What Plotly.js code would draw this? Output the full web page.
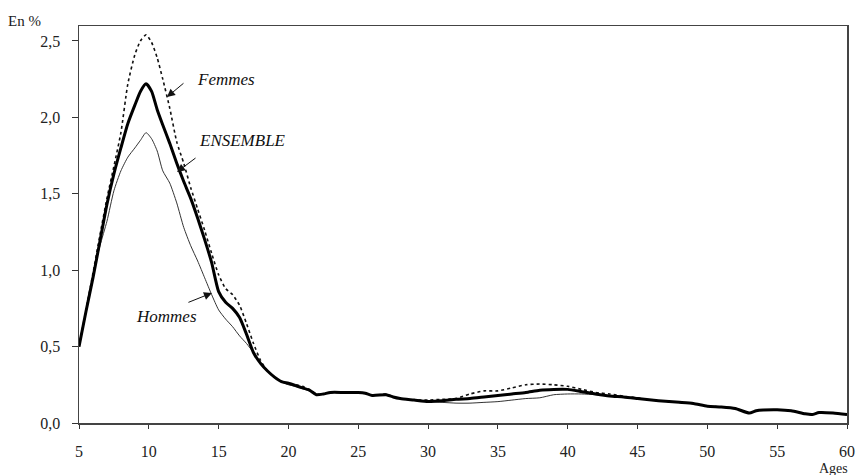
<!DOCTYPE html>
<html>
<head>
<meta charset="utf-8">
<script src="https://cdn.plot.ly/plotly-3.0.1.min.js"></script>
<style>
html,body{margin:0;padding:0;background:#fff;}
#chart{width:857px;height:475px;}
</style>
</head>
<body>
<div id="chart"></div>
<script>
const ages = [5,5.5,6,6.5,7,7.5,8,8.5,9,9.4,9.8,10.2,10.6,11,11.5,12,12.5,13,13.5,14,14.5,15,15.5,16,16.5,17,17.5,18,18.5,19,19.5,20,20.5,21,21.5,22,22.5,23,24,25,25.5,26,27,27.5,28,29,30,31,32,33,34,35,36,37,38,39,40,41,42,43,44,45,46,47,48,49,50,51,52,53,53.5,54,55,56,57,57.5,58,59,60];

const ensemble = [0.50,0.73,0.95,1.19,1.43,1.63,1.80,1.96,2.08,2.17,2.22,2.17,2.05,1.95,1.83,1.70,1.58,1.47,1.34,1.20,1.05,0.86,0.79,0.75,0.69,0.58,0.46,0.39,0.34,0.30,0.27,0.26,0.245,0.23,0.215,0.185,0.19,0.20,0.20,0.20,0.195,0.18,0.185,0.17,0.16,0.15,0.14,0.145,0.155,0.16,0.17,0.18,0.19,0.20,0.215,0.22,0.22,0.205,0.19,0.177,0.17,0.16,0.15,0.142,0.135,0.127,0.11,0.105,0.095,0.065,0.08,0.085,0.087,0.08,0.06,0.055,0.068,0.065,0.055];

const femmes = [0.50,0.74,0.98,1.23,1.47,1.68,1.90,2.22,2.41,2.50,2.54,2.49,2.39,2.25,2.06,1.84,1.70,1.54,1.40,1.26,1.11,0.97,0.88,0.84,0.77,0.65,0.52,0.41,0.34,0.30,0.27,0.255,0.25,0.24,0.22,0.19,0.19,0.20,0.20,0.20,0.195,0.18,0.19,0.17,0.16,0.15,0.15,0.155,0.16,0.19,0.21,0.21,0.23,0.25,0.255,0.25,0.24,0.22,0.20,0.19,0.175,0.165,0.15,0.142,0.135,0.127,0.11,0.105,0.095,0.065,0.08,0.085,0.087,0.08,0.06,0.055,0.068,0.065,0.055];

const hommes = [0.50,0.74,0.97,1.16,1.32,1.52,1.65,1.74,1.80,1.85,1.90,1.86,1.78,1.65,1.57,1.44,1.28,1.16,1.06,0.95,0.84,0.74,0.68,0.63,0.57,0.52,0.46,0.39,0.34,0.30,0.27,0.25,0.24,0.225,0.21,0.185,0.19,0.20,0.20,0.20,0.195,0.18,0.185,0.17,0.16,0.15,0.14,0.135,0.13,0.13,0.135,0.14,0.15,0.16,0.165,0.185,0.19,0.19,0.185,0.175,0.17,0.16,0.15,0.142,0.135,0.127,0.11,0.105,0.095,0.065,0.08,0.085,0.087,0.08,0.06,0.055,0.068,0.065,0.055];

const yTickVals = [0,0.5,1,1.5,2,2.5];
const yTickText = ['0,0','0,5','1,0','1,5','2,0','2,5'];
const xTickVals = [5,10,15,20,25,30,35,40,45,50,55,60];
const xTickText = ['5','10','15','20','25','30','35','40','45','50','55','60'];

const serif = 'Liberation Serif, Times New Roman, serif';

const traces = [
  {x: ages, y: hommes, mode: 'lines', name: 'Hommes', line: {color: '#333', width: 1, shape: 'spline', smoothing: 0.6}},
  {x: ages, y: femmes, mode: 'lines', name: 'Femmes', line: {color: '#111', width: 1.6, dash: 'dot', shape: 'spline', smoothing: 0.6}},
  {x: ages, y: ensemble, mode: 'lines', name: 'ENSEMBLE', line: {color: '#000', width: 3, shape: 'spline', smoothing: 0.6}}
];

const axFont = {family: serif, size: 16, color: '#222'};

const layout = {
  width: 857, height: 475,
  margin: {l: 79, r: 10, t: 26, b: 52},
  paper_bgcolor: '#fff', plot_bgcolor: '#fff',
  showlegend: false,
  xaxis: {
    range: [5, 60], tickvals: xTickVals, ticktext: xTickText,
    ticks: 'outside', ticklen: 4, tickwidth: 1, tickcolor: '#333',
    showline: true, linecolor: '#444', linewidth: 1.5, mirror: true,
    showgrid: false, zeroline: false, tickfont: axFont, ticklabelstandoff: 9
  },
  yaxis: {
    range: [0, 2.598], tickvals: yTickVals, ticktext: yTickText,
    ticks: 'outside', ticklen: 6, tickwidth: 1, tickcolor: '#333',
    showline: true, linecolor: '#444', linewidth: 1.5, mirror: true,
    showgrid: false, zeroline: false, tickfont: axFont, ticklabelstandoff: 8
  },
  xaxis2: {
    overlaying: 'x', matches: 'x', range: [5, 60], tickvals: xTickVals,
    ticks: 'inside', ticklen: 3, tickwidth: 1, tickcolor: '#333',
    showticklabels: false, showgrid: false, zeroline: false, showline: false
  },
  yaxis2: {
    overlaying: 'y', matches: 'y', range: [0, 2.598], tickvals: yTickVals,
    ticks: 'inside', ticklen: 4, tickwidth: 1, tickcolor: '#333',
    showticklabels: false, showgrid: false, zeroline: false, showline: false
  },
  annotations: [
    {xref: 'paper', yref: 'paper', x: -0.0716, y: 1.0126, text: 'En %', showarrow: false,
     xanchor: 'center', yanchor: 'middle', font: {family: serif, size: 15, color: '#222'}},
    {xref: 'paper', yref: 'paper', x: 0.983, y: -0.1155, text: 'Ages', showarrow: false,
     xanchor: 'center', yanchor: 'middle', font: {family: serif, size: 14, color: '#222'}},
    {x: 15.53, y: 2.245, text: '<i>Femmes</i>', showarrow: false,
     font: {family: serif, size: 17, color: '#111'}},
    {x: 16.74, y: 1.852, text: '<i>ENSEMBLE</i>', showarrow: false,
     font: {family: serif, size: 17, color: '#111'}},
    {x: 11.30, y: 0.694, text: '<i>Hommes</i>', showarrow: false,
     font: {family: serif, size: 17, color: '#111'}},
    {x: 11.30, y: 2.133, ax: 18, ay: -15, text: '', showarrow: true,
     arrowhead: 2, arrowsize: 1.6, arrowwidth: 1, arrowcolor: '#111'},
    {x: 12.02, y: 1.643, ax: 20, ay: -15, text: '', showarrow: true,
     arrowhead: 2, arrowsize: 1.6, arrowwidth: 1, arrowcolor: '#111'},
    {x: 14.52, y: 0.851, ax: -25, ay: 10, text: '', showarrow: true,
     arrowhead: 2, arrowsize: 1.6, arrowwidth: 1, arrowcolor: '#111'}
  ]
};

Plotly.newPlot('chart', traces, layout, {staticPlot: true, displayModeBar: false});
</script>
</body>
</html>
